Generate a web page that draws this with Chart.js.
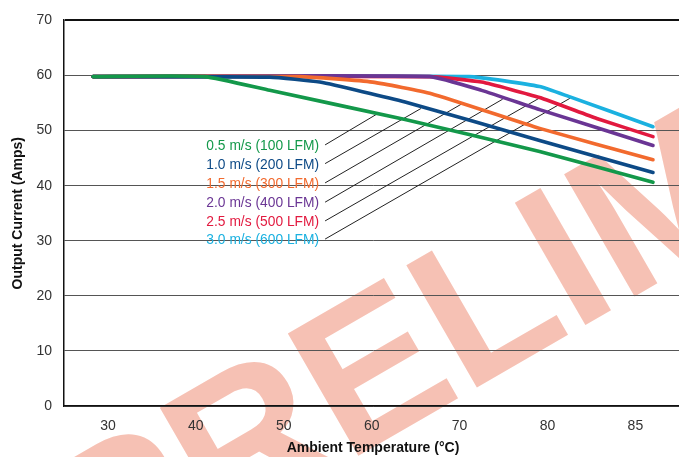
<!DOCTYPE html>
<html>
<head>
<meta charset="utf-8">
<script src="https://cdn.jsdelivr.net/npm/chart.js@4.4.1/dist/chart.umd.min.js"></script>
<style>
  html, body { margin: 0; padding: 0; background: #fff; overflow: hidden; }
  #wrap { position: relative; width: 684px; height: 457px; }
</style>
</head>
<body>
<div id="wrap"><canvas id="g-derating"></canvas></div>
<script>
// Eje X no lineal: las marcas de temperatura van equiespaciadas (80 -> 85 ocupa lo mismo que 70 -> 80)
const tickTemps   = [30, 40, 50, 60, 70, 80, 85];
const currentTicks = [0, 10, 20, 30, 40, 50, 60, 70];

const seriesNames  = ["0.5 m/s (100 LFM)", "1.0 m/s (200 LFM)", "1.5 m/s (300 LFM)",
                      "2.0 m/s (400 LFM)", "2.5 m/s (500 LFM)", "3.0 m/s (600 LFM)"];
const seriesColors = ["#13984a", "#0d4a86", "#f26a2e", "#6a3594", "#e2193f", "#1bb1e0"];

// curvas de derating (temperatura °C, corriente A)
const t05 = [28.3, 41.0, 48.4, 63.8, 79.1, 86.0];
const i05 = [59.8, 59.8, 57.3, 52.0, 46.2, 40.6];
const t10 = [28.3, 48.4, 54.1, 63.8, 79.1, 86.0];
const i10 = [59.8, 59.7, 58.8, 55.2, 48.2, 42.4];
const t15 = [28.3, 51.8, 60.1, 66.8, 79.1, 86.0];
const i15 = [59.8, 59.8, 58.8, 56.7, 50.4, 44.7];
const t20 = [28.3, 66.6, 72.5, 79.1, 86.0];
const i20 = [59.8, 59.8, 57.3, 53.8, 47.3];
const t25 = [28.3, 66.6, 72.5, 79.1, 82.8, 86.0];
const i25 = [59.8, 59.8, 58.8, 56.0, 52.2, 48.9];
const t30 = [28.3, 71.1, 79.1, 81.2, 86.0];
const i30 = [59.8, 59.8, 58.0, 56.2, 50.7];

// lineas guia de las etiquetas: desde la etiqueta hasta su curva
const leaderFromT = [54.7, 54.7, 54.7, 54.7, 54.7, 54.7];
const leaderFromI = [47.4, 44.0, 40.5, 37.0, 33.6, 30.3];
const leaderToT   = [60.6, 65.6, 70.2, 74.9, 79.3, 81.3];
const leaderToI   = [53.0, 54.0, 54.8, 55.7, 56.1, 55.9];

const seriesT = [t05, t10, t15, t20, t25, t30];
const seriesI = [i05, i10, i15, i20, i25, i30];

// temperatura -> posicion en el eje (interpolacion por tramos entre marcas)
function tempToPos(t) {
  var k = 0;
  while (k < tickTemps.length - 2 && t > tickTemps[k + 1]) k++;
  var a = tickTemps[k], b = tickTemps[k + 1];
  return k + (t - a) / (b - a);
}

var fam = "'Liberation Sans', Arial, sans-serif";

var datasets = [];
seriesT.forEach(function(ts, s) {
  datasets.push({
    data: ts.map(function(t, j) { return { x: tempToPos(t), y: seriesI[s][j] }; }),
    borderColor: seriesColors[s], borderWidth: 3.6, pointRadius: 0,
    borderCapStyle: "round", borderJoinStyle: "round", tension: 0.15, order: 1
  });
});
leaderFromT.forEach(function(t, s) {
  datasets.push({
    data: [{ x: tempToPos(t), y: leaderFromI[s] }, { x: tempToPos(leaderToT[s]), y: leaderToI[s] }],
    borderColor: "#222", borderWidth: 1, pointRadius: 0, order: 2
  });
});

// marca de agua PRELIMINARY detras de todo
var watermark = {
  id: "watermark",
  beforeDraw: function(chart) {
    var ctx = chart.ctx;
    ctx.save();
    ctx.fillStyle = "#fff";
    ctx.fillRect(0, 0, chart.width, chart.height);
    ctx.translate(100, 605);
    ctx.rotate(-30 * Math.PI / 180);
    ctx.fillStyle = "#f6c1b4";
    ctx.font = "bold 205px " + fam;
    ctx.textBaseline = "alphabetic";
    ctx.fillText("PRELIMINARY", 0, 0);
    ctx.restore();
  }
};

// etiquetas de cada curva (tipografia condensada simulada con escala horizontal)
var curveLabels = {
  id: "curveLabels",
  afterDatasetsDraw: function(chart) {
    var ctx = chart.ctx, xs = chart.scales.x, ys = chart.scales.y;
    seriesNames.forEach(function(name, s) {
      var px = xs.getPixelForValue(tempToPos(leaderFromT[s])) - 6;
      var py = ys.getPixelForValue(leaderFromI[s]) + 1;
      ctx.save();
      ctx.translate(px, py);
      ctx.scale(0.92, 1);
      ctx.font = "15px " + fam;
      ctx.textAlign = "right";
      ctx.textBaseline = "middle";
      ctx.fillStyle = seriesColors[s];
      ctx.fillText(name, 0, 0);
      ctx.restore();
    });
  }
};

new Chart(document.getElementById("g-derating"), {
  type: "line",
  data: { datasets: datasets },
  plugins: [watermark, curveLabels],
  options: {
    responsive: true, maintainAspectRatio: false, animation: false,
    layout: { padding: { top: 16, right: 2, left: 0, bottom: 0 } },
    plugins: { legend: { display: false }, tooltip: { enabled: false } },
    scales: {
      x: {
        type: "linear", min: -0.5, max: tempToPos(86) + 0.33,
        afterBuildTicks: function(sc) { sc.ticks = tickTemps.map(function(t, k) { return { value: k }; }); },
        afterFit: function(sc) { sc.height = 51; },
        grid: { display: false },
        border: { color: "#111", width: 1.5 },
        ticks: { color: "#333", padding: 4, font: { size: 14, family: fam },
                 callback: function(v) { return tickTemps[v]; } },
        title: { display: true, text: "Ambient Temperature (°C)", color: "#111",
                 font: { size: 14, family: fam, weight: "bold" }, padding: { top: 0, bottom: 0 } }
      },
      y: {
        min: 0, max: 70,
        afterBuildTicks: function(sc) { sc.ticks = currentTicks.map(function(v) { return { value: v }; }); },
        afterFit: function(sc) { sc.width = 64; },
        grid: {
          tickLength: 0,
          color: function(c) { return c.tick && c.tick.value === 70 ? "#111" : "#555"; },
          lineWidth: function(c) { return c.tick && c.tick.value === 70 ? 2 : 1; }
        },
        border: { color: "#111", width: 1.5 },
        ticks: { color: "#333", padding: 12, font: { size: 14, family: fam } },
        title: { display: true, text: "Output Current (Amps)", color: "#111",
                 font: { size: 14, family: fam, weight: "bold" }, padding: { top: 10, bottom: 0 } }
      }
    }
  }
});
</script>
</body>
</html>
